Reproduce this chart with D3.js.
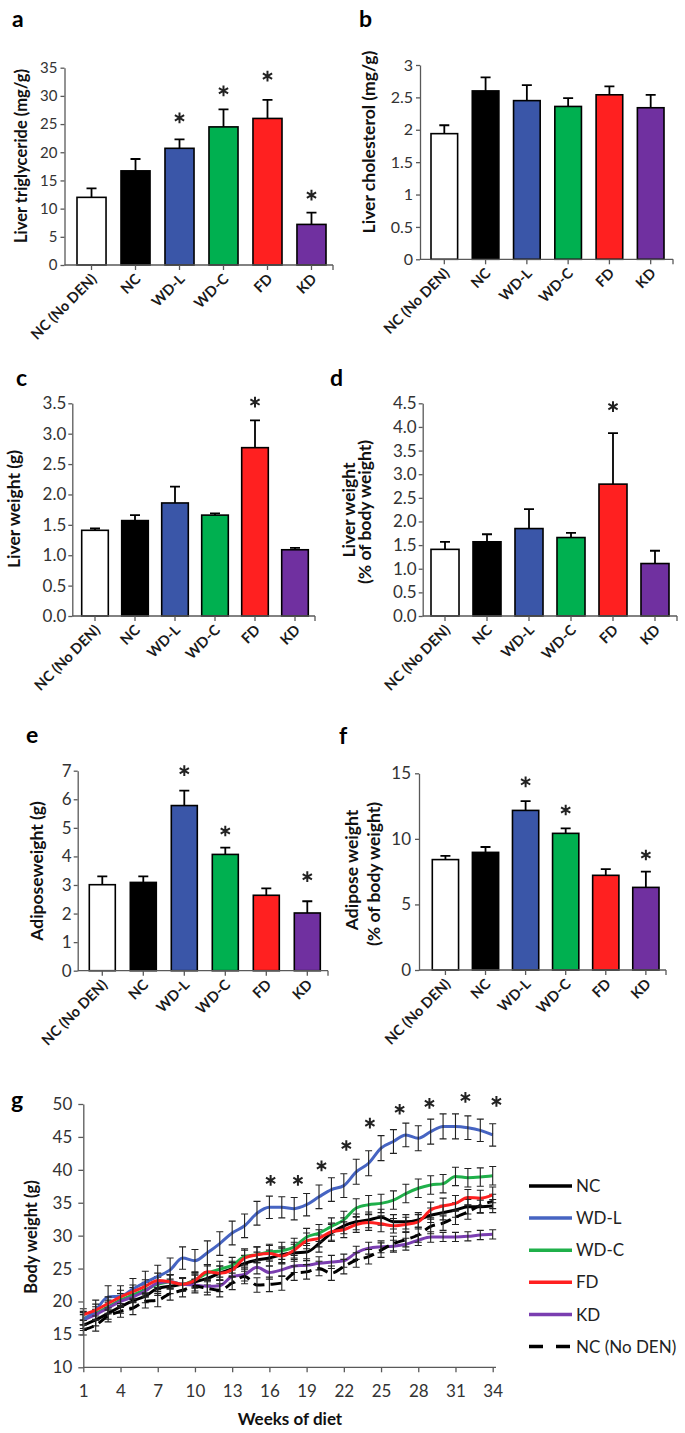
<!DOCTYPE html>
<html><head><meta charset="utf-8">
<script src="https://cdn.jsdelivr.net/npm/d3@7"></script>
<style>
body{margin:0;background:#fff}
svg{display:block}
text{font-family:Lato,"Open Sans","Noto Sans",sans-serif}
</style>
</head><body>
<svg id="fig" width="685" height="1433"></svg>
<script>
// ---------------- DATA ----------------
const categories = ["NC (No DEN)", "NC", "WD-L", "WD-C", "FD", "KD"];
const barColors  = ["#ffffff", "#000000", "#3a56a8", "#00b050", "#ff2020", "#7030a0"];

// a: Liver triglyceride (mg/g)
const trigMean = [12.0, 16.7, 20.7, 24.5, 26.0, 7.2];
const trigErr  = [1.6, 2.1, 1.6, 3.1, 3.3, 2.1];
const trigStar = [null, null, 26.1, 30.9, 33.5, 12.4];
// b: Liver cholesterol (mg/g)
const cholMean = [1.94, 2.60, 2.45, 2.36, 2.54, 2.34];
const cholErr  = [0.13, 0.21, 0.24, 0.13, 0.13, 0.20];
const cholStar = [null, null, null, null, null, null];
// c: Liver weight (g)
const lwMean = [1.41, 1.57, 1.86, 1.66, 2.77, 1.09];
const lwErr  = [0.03, 0.09, 0.27, 0.03, 0.45, 0.03];
const lwStar = [null, null, null, null, 3.52, null];
// d: Liver weight (% of body weight)
const lwpMean = [1.41, 1.57, 1.85, 1.66, 2.79, 1.11];
const lwpErr  = [0.16, 0.16, 0.41, 0.10, 1.08, 0.27];
const lwpStar = [null, null, null, null, 4.43, null];
// e: Adipose weight (g)
const awMean = [3.01, 3.09, 5.78, 4.07, 2.64, 2.02];
const awErr  = [0.29, 0.21, 0.52, 0.24, 0.24, 0.41];
const awStar = [null, null, 7.0, 4.89, null, 3.29];
// f: Adipose weight (% of body weight)
const awpMean = [8.42, 8.97, 12.17, 10.42, 7.22, 6.30];
const awpErr  = [0.28, 0.41, 0.71, 0.38, 0.48, 1.20];
const awpStar = [null, null, 14.35, 12.2, null, 8.77];

// tick labels
const ticksA = [0, 5, 10, 15, 20, 25, 30, 35];
const ticksB = [0, 0.5, 1, 1.5, 2, 2.5, 3];
const ticksC = [0, 0.5, 1, 1.5, 2, 2.5, 3, 3.5];
const ticksD = [0, 0.5, 1, 1.5, 2, 2.5, 3, 3.5, 4, 4.5];
const ticksE = [0, 1, 2, 3, 4, 5, 6, 7];
const ticksF = [0, 5, 10, 15];

// g: Body weight (g) over weeks of diet
const weeks = d3.range(1, 35);
const weekTicks = [1, 4, 7, 10, 13, 16, 19, 22, 25, 28, 31, 34];
const bwTicks = [10, 15, 20, 25, 30, 35, 40, 45, 50];
const seriesNames  = ["NC", "WD-L", "WD-C", "FD", "KD", "NC (No DEN)"];
const seriesColors = ["#000000", "#4664c2", "#1fb04a", "#ff2020", "#7a3eb0", "#000000"];
const bwNC    = [16.4,17.2,18.2,19.2,20.1,20.8,22.0,22.3,22.6,23.0,23.5,24.3,25.0,25.8,26.3,26.6,27.1,27.4,27.5,28.8,30.4,31.5,32.1,32.4,32.8,32.1,32.1,32.4,33.1,33.5,33.9,34.4,34.4,34.5];
const bwWDL   = [17.2,18.7,20.7,20.8,21.9,22.9,23.8,24.8,26.6,26.2,27.4,28.8,30.4,31.5,33.4,34.3,34.3,34.1,34.7,35.9,37.0,37.6,39.7,41.0,43.3,44.3,45.3,44.8,45.8,46.6,46.6,46.4,46.0,45.3];
const bwWDC   = [17.4,18.2,19.2,20.2,21.0,21.8,22.6,23.0,22.6,23.3,24.3,24.9,25.5,26.8,27.1,27.5,27.7,28.3,29.8,30.4,31.4,32.4,34.2,34.7,34.9,35.4,36.4,37.2,37.7,37.9,39.0,38.8,38.9,39.1];
const bwFD    = [18.0,18.7,19.7,20.7,21.5,22.3,23.2,23.0,22.6,23.2,24.5,24.3,24.8,26.6,27.1,27.3,26.9,27.8,29.2,29.6,30.6,30.9,31.7,32.0,31.8,31.5,31.7,32.1,33.9,34.5,34.9,35.8,35.7,36.2];
const bwKD    = [17.2,18.0,19.0,20.0,20.7,21.6,22.8,23.0,22.6,22.5,22.3,22.4,23.8,24.1,25.2,24.4,24.8,25.4,25.5,25.8,26.0,26.2,27.4,28.1,28.3,28.4,28.7,29.3,29.8,29.8,29.8,29.9,30.1,30.2];
const bwNoDEN = [15.7,16.4,17.8,18.5,19.0,20.0,20.2,21.2,21.7,22.3,22.0,21.7,22.8,23.8,22.5,22.6,22.8,24.3,24.5,25.0,24.3,25.3,26.3,26.8,27.8,28.8,29.4,30.1,31.4,31.9,32.8,33.6,34.6,35.2];
const errNC    = [0.8,0.9,0.9,1.0,1.0,1.0,1.1,1.1,1.0,1.0,1.0,1.1,1.1,1.2,1.2,1.2,1.2,1.3,1.3,1.3,1.3,1.2,1.2,1.2,1.2,1.1,1.1,1.1,1.1,1.1,1.1,1.1,1.0,1.0];
const errWDL   = [1.3,1.5,1.7,1.6,1.6,1.7,1.7,1.8,1.7,1.7,1.8,1.8,1.8,1.8,1.8,1.7,1.6,1.7,1.7,1.8,1.8,1.8,1.9,1.9,1.9,1.8,1.8,1.9,1.9,1.9,1.9,1.8,1.7,1.7];
const errWDC   = [0.9,1.0,1.0,1.0,1.1,1.1,1.1,1.1,1.0,1.1,1.1,1.2,1.2,1.2,1.2,1.2,1.3,1.3,1.3,1.3,1.3,1.3,1.4,1.4,1.4,1.4,1.4,1.4,1.4,1.4,1.4,1.4,1.4,1.4];
const errFD    = [0.9,0.9,1.0,1.0,1.0,1.0,1.1,1.1,1.0,1.0,1.1,1.1,1.1,1.2,1.2,1.2,1.2,1.2,1.2,1.3,1.3,1.2,1.2,1.2,1.2,1.1,1.1,1.1,1.2,1.2,1.2,1.2,1.2,1.2];
const errKD    = [0.8,0.8,0.9,0.9,0.9,0.9,1.0,1.0,0.9,0.9,0.9,0.9,1.0,1.0,1.0,1.0,1.0,1.0,1.0,1.0,1.0,1.0,1.0,0.9,0.9,0.9,0.9,0.8,0.8,0.7,0.7,0.7,0.7,0.7];
const errNoDEN = [0.8,0.9,0.9,0.9,1.0,1.0,1.0,1.0,1.0,1.0,1.0,1.0,1.0,1.1,1.1,1.1,1.1,1.1,1.1,1.1,1.1,1.1,1.1,1.1,1.1,1.1,1.1,1.1,1.1,1.1,1.1,1.1,1.1,1.1];
const bwStarWeek = [16.1, 18.3, 20.2, 22.2, 24.1, 26.5, 28.9, 31.8, 34.3];
const bwStarY    = [38.4, 38.4, 40.6, 43.7, 47.1, 49.2, 50.1, 51.0, 50.4];

// ---------------- DRAW ----------------
const svg = d3.select("#fig");
const axisColor = "#595959";
const tickText = "#333";
const star = d3.symbol(d3.symbolAsterisk, 80);

function styleAxis(sel, fs){
  sel.select(".domain").attr("stroke", axisColor).attr("stroke-width", 1.3);
  sel.selectAll(".tick line").attr("stroke", axisColor).attr("stroke-width", 1.3);
  sel.selectAll(".tick text").attr("fill", tickText).attr("font-size", fs).attr("font-family", "Lato, 'Open Sans', sans-serif");
}

function panelLetter(t, x, y){
  svg.append("text").attr("x", x).attr("y", y).attr("font-size", 23).attr("font-weight", 700).attr("fill", "#000").text(t);
}

function yTitle(lines, pos, fs){
  lines.forEach((ln, i) => {
    svg.append("text")
      .attr("transform", `translate(${pos[i][0]},${pos[i][1]}) rotate(-90)`)
      .attr("text-anchor", "middle").attr("dy", "0.36em")
      .attr("font-size", fs).attr("font-weight", 700).attr("fill", "#111")
      .text(ln);
  });
}

function barPanel(p, means, errs, stars){
  const g = svg.append("g");
  const y = d3.scaleLinear().domain([0, p.max]).range([p.y0, p.yTop]);
  const x = d3.scaleBand().domain(categories).range([p.bx0, p.bx1]).paddingInner(p.pad).paddingOuter(0);
  const data = categories.map((c, i) => ({c, v: means[i], e: errs[i], s: stars[i], col: barColors[i]}));

  // error bars (upper only)
  const cw = 5;
  g.selectAll(".eb").data(data).join("path")
    .attr("d", d => {
      const cx = x(d.c) + x.bandwidth()/2;
      return `M${cx},${y(d.v)}V${y(d.v + d.e)}M${cx - cw},${y(d.v + d.e)}H${cx + cw}`;
    })
    .attr("stroke", "#000").attr("stroke-width", 1.8).attr("fill", "none");

  // bars
  g.selectAll(".bar").data(data).join("rect")
    .attr("x", d => x(d.c)).attr("width", x.bandwidth())
    .attr("y", d => y(d.v)).attr("height", d => y(0) - y(d.v))
    .attr("fill", d => d.col).attr("stroke", "#000").attr("stroke-width", 1.6);

  // stars
  g.selectAll(".st").data(data.filter(d => d.s != null)).join("path")
    .attr("transform", d => `translate(${x(d.c) + x.bandwidth()/2},${y(d.s)})`)
    .attr("d", star).attr("stroke", "#222").attr("stroke-width", 2).attr("fill", "none");

  // y axis
  const ya = g.append("g").attr("transform", `translate(${p.ax},0)`)
    .call(d3.axisLeft(y).tickValues(p.ticks).tickSize(4).tickSizeOuter(0).tickPadding(p.tp).tickFormat(p.fmt));
  styleAxis(ya, p.fs);

  // x axis line + ticks
  g.append("line").attr("x1", p.ax).attr("x2", p.xEnd).attr("y1", p.y0).attr("y2", p.y0)
    .attr("stroke", axisColor).attr("stroke-width", 1.3);
  const tx = categories.map(c => x(c) + x.bandwidth()/2).concat([p.xEnd]);
  g.selectAll(".xt").data(tx).join("line")
    .attr("x1", d => d).attr("x2", d => d).attr("y1", p.y0).attr("y2", p.y0 + 5)
    .attr("stroke", axisColor).attr("stroke-width", 1.3);

  // category labels
  g.selectAll(".cl").data(categories).join("text")
    .attr("transform", c => `translate(${x(c) + x.bandwidth()/2 + 6},${p.y0 + 15}) rotate(-45)`)
    .attr("text-anchor", "end").attr("font-size", p.cfs).attr("font-weight", 700).attr("fill", "#1a1a1a")
    .text(c => c);
}

const fmtPlain = d3.format("");
const fmt1 = d3.format(".1f");

// a
barPanel({max:35, y0:265, yTop:67.7, ax:64.5, xEnd:333, bx0:77, bx1:326, pad:0.34, ticks:ticksA, fmt:fmtPlain, tp:3, fs:15, cfs:14.5}, trigMean, trigErr, trigStar);
panelLetter("a", 12, 27);
yTitle(["Liver triglyceride (mg/g)"], [[21, 156]], 16.5);

// b
barPanel({max:3, y0:259.3, yTop:65, ax:420, xEnd:673, bx0:431, bx1:664, pad:0.355, ticks:ticksB, fmt:fmtPlain, tp:3, fs:16, cfs:14.5}, cholMean, cholErr, cholStar);
panelLetter("b", 359, 27);
yTitle(["Liver cholesterol (mg/g)"], [[369, 142]], 17.5);

// c
barPanel({max:3.5, y0:616, yTop:403.3, ax:72.3, xEnd:315, bx0:81.7, bx1:308.3, pad:0.335, ticks:ticksC, fmt:fmt1, tp:2, fs:17, cfs:14.5}, lwMean, lwErr, lwStar);
panelLetter("c", 16, 386);
yTitle(["Liver weight (g)"], [[14, 509]], 17.5);

// d
barPanel({max:4.5, y0:616, yTop:403.3, ax:422.7, xEnd:677, bx0:431, bx1:669, pad:0.333, ticks:ticksD, fmt:fmt1, tp:2, fs:17, cfs:14.5}, lwpMean, lwpErr, lwpStar);
panelLetter("d", 330, 386);
yTitle(["Liver weight", "(% of body weight)"], [[348.5, 510], [365, 512]], 17.5);

// e
barPanel({max:7, y0:970.7, yTop:770.7, ax:77.7, xEnd:328, bx0:89.3, bx1:320.3, pad:0.366, ticks:ticksE, fmt:fmtPlain, tp:2, fs:17, cfs:14.5}, awMean, awErr, awStar);
panelLetter("e", 26, 743);
yTitle(["Adiposeweight (g)"], [[37, 871]], 17.5);

// f
barPanel({max:15, y0:970, yTop:773.3, ax:419, xEnd:666, bx0:432.3, bx1:659, pad:0.345, ticks:ticksF, fmt:fmtPlain, tp:4, fs:17, cfs:14.5}, awpMean, awpErr, awpStar);
panelLetter("f", 339, 744);
yTitle(["Adipose  weight", "(% of body weight)"], [[351.5, 870], [373.5, 874]], 17.5);

// g: line chart
(function(){
  const g = svg.append("g");
  const x = d3.scaleLinear().domain([1, 34]).range([83.3, 492.7]);
  const y = d3.scaleLinear().domain([10, 50]).range([1367.3, 1104]);
  const values = [bwNC, bwWDL, bwWDC, bwFD, bwKD, bwNoDEN];
  const errs = [errNC, errWDL, errWDC, errFD, errKD, errNoDEN];
  const line = d3.line().x((d, i) => x(weeks[i])).y(d => y(d)).curve(d3.curveMonotoneX);
  const order = [0, 2, 4, 5, 1, 3];
  order.forEach(si => {
    const vals = values[si], er = errs[si];
    g.append("path").datum(vals).attr("d", line).attr("fill", "none")
      .attr("stroke", seriesColors[si]).attr("stroke-width", 3)
      .attr("stroke-dasharray", si === 5 ? "11,6" : null);
    g.append("g").selectAll("path").data(vals).join("path")
      .attr("d", (d, i) => {
        const cx = x(weeks[i]), lo = y(d - er[i]), hi = y(d + er[i]);
        return `M${cx},${lo}V${hi}M${cx-3.5},${hi}H${cx+3.5}M${cx-3.5},${lo}H${cx+3.5}`;
      })
      .attr("stroke", "#222").attr("stroke-width", 1.1).attr("fill", "none");
  });
  // stars
  g.selectAll(".st").data(bwStarWeek).join("path")
    .attr("transform", (d, i) => `translate(${x(d)},${y(bwStarY[i])})`)
    .attr("d", star).attr("stroke", "#222").attr("stroke-width", 2).attr("fill", "none");

  const ya = g.append("g").attr("transform", "translate(83.3,0)")
    .call(d3.axisLeft(y).tickValues(bwTicks).tickSize(5).tickSizeOuter(0).tickPadding(6));
  styleAxis(ya, 17);
  const xa = g.append("g").attr("transform", "translate(0,1367.3)")
    .call(d3.axisBottom(x).tickValues(weekTicks).tickSize(5).tickSizeOuter(0).tickPadding(13));
  styleAxis(xa, 17);
  xa.select(".domain").attr("d", "M83.3,0H496");

  svg.append("text").attr("x", 290).attr("y", 1425).attr("text-anchor", "middle")
    .attr("font-size", 17).attr("font-weight", 700).attr("fill", "#111").text("Weeks of diet");
  yTitle(["Body weight (g)"], [[31, 1237]], 16.5);
  panelLetter("g", 11, 1108);

  // legend
  const lg = svg.append("g");
  seriesNames.forEach((nm, i) => {
    const ly = 1186 + i * 32.1;
    lg.append("line").attr("x1", 529).attr("x2", 572).attr("y1", ly).attr("y2", ly)
      .attr("stroke", seriesColors[i]).attr("stroke-width", 3.5)
      .attr("stroke-dasharray", i === 5 ? "14,13" : null);
    lg.append("text").attr("x", 576).attr("y", ly).attr("dy", "0.36em")
      .attr("font-size", 17).attr("fill", "#222").text(nm);
  });
})();
</script>
</body></html>
